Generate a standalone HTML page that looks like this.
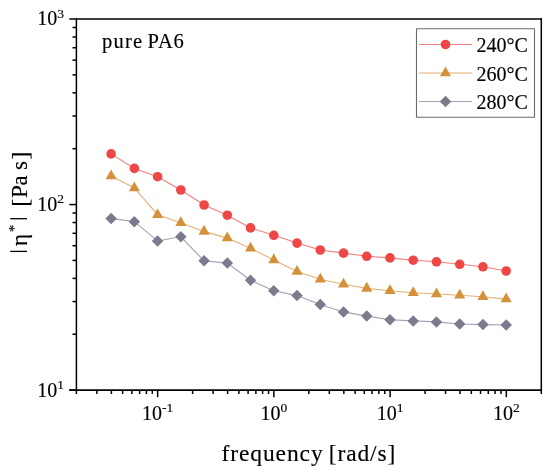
<!DOCTYPE html>
<html><head><meta charset="utf-8"><style>
html,body{margin:0;padding:0;background:#fff;}
body{width:550px;height:476px;overflow:hidden;font-family:"Liberation Serif",serif;}
svg{display:block;will-change:transform;}
text{stroke:#000;stroke-width:0.15px;}
</style></head><body>
<svg width="550" height="476" viewBox="0 0 550 476">
<rect width="550" height="476" fill="#fff"/>
<g><polyline points="111.10,218.40 134.34,221.70 157.58,241.00 180.82,236.80 204.06,260.80 227.30,263.10 250.54,280.30 273.78,290.80 297.02,295.60 320.26,304.60 343.50,311.90 366.74,316.10 389.98,319.80 413.22,320.90 436.46,321.90 459.70,324.00 482.94,324.60 506.18,325.00" fill="none" stroke="#7A7C8E" stroke-width="1.1" stroke-opacity="0.7"/><polyline points="111.10,176.10 134.34,188.00 157.58,214.70 180.82,222.70 204.06,231.40 227.30,238.10 250.54,248.30 273.78,259.90 297.02,271.50 320.26,279.20 343.50,284.30 366.74,288.40 389.98,290.70 413.22,292.80 436.46,294.00 459.70,295.20 482.94,296.80 506.18,299.10" fill="none" stroke="#D5903A" stroke-width="1.1" stroke-opacity="0.7"/><polyline points="111.10,153.90 134.34,168.40 157.58,176.70 180.82,190.00 204.06,205.00 227.30,215.20 250.54,227.90 273.78,235.30 297.02,243.10 320.26,250.00 343.50,253.10 366.74,256.30 389.98,257.90 413.22,260.20 436.46,261.80 459.70,264.30 482.94,266.80 506.18,271.00" fill="none" stroke="#EF4646" stroke-width="1.1" stroke-opacity="0.7"/><polygon points="111.10,212.65 116.85,218.40 111.10,224.15 105.35,218.40" fill="#7A7C8E"/><polygon points="134.34,215.95 140.09,221.70 134.34,227.45 128.59,221.70" fill="#7A7C8E"/><polygon points="157.58,235.25 163.33,241.00 157.58,246.75 151.83,241.00" fill="#7A7C8E"/><polygon points="180.82,231.05 186.57,236.80 180.82,242.55 175.07,236.80" fill="#7A7C8E"/><polygon points="204.06,255.05 209.81,260.80 204.06,266.55 198.31,260.80" fill="#7A7C8E"/><polygon points="227.30,257.35 233.05,263.10 227.30,268.85 221.55,263.10" fill="#7A7C8E"/><polygon points="250.54,274.55 256.29,280.30 250.54,286.05 244.79,280.30" fill="#7A7C8E"/><polygon points="273.78,285.05 279.53,290.80 273.78,296.55 268.03,290.80" fill="#7A7C8E"/><polygon points="297.02,289.85 302.77,295.60 297.02,301.35 291.27,295.60" fill="#7A7C8E"/><polygon points="320.26,298.85 326.01,304.60 320.26,310.35 314.51,304.60" fill="#7A7C8E"/><polygon points="343.50,306.15 349.25,311.90 343.50,317.65 337.75,311.90" fill="#7A7C8E"/><polygon points="366.74,310.35 372.49,316.10 366.74,321.85 360.99,316.10" fill="#7A7C8E"/><polygon points="389.98,314.05 395.73,319.80 389.98,325.55 384.23,319.80" fill="#7A7C8E"/><polygon points="413.22,315.15 418.97,320.90 413.22,326.65 407.47,320.90" fill="#7A7C8E"/><polygon points="436.46,316.15 442.21,321.90 436.46,327.65 430.71,321.90" fill="#7A7C8E"/><polygon points="459.70,318.25 465.45,324.00 459.70,329.75 453.95,324.00" fill="#7A7C8E"/><polygon points="482.94,318.85 488.69,324.60 482.94,330.35 477.19,324.60" fill="#7A7C8E"/><polygon points="506.18,319.25 511.93,325.00 506.18,330.75 500.43,325.00" fill="#7A7C8E"/><polygon points="111.10,169.57 116.65,179.37 105.55,179.37" fill="#D5903A"/><polygon points="134.34,181.47 139.89,191.27 128.79,191.27" fill="#D5903A"/><polygon points="157.58,208.17 163.13,217.97 152.03,217.97" fill="#D5903A"/><polygon points="180.82,216.17 186.37,225.97 175.27,225.97" fill="#D5903A"/><polygon points="204.06,224.87 209.61,234.67 198.51,234.67" fill="#D5903A"/><polygon points="227.30,231.57 232.85,241.37 221.75,241.37" fill="#D5903A"/><polygon points="250.54,241.77 256.09,251.57 244.99,251.57" fill="#D5903A"/><polygon points="273.78,253.37 279.33,263.17 268.23,263.17" fill="#D5903A"/><polygon points="297.02,264.97 302.57,274.77 291.47,274.77" fill="#D5903A"/><polygon points="320.26,272.67 325.81,282.47 314.71,282.47" fill="#D5903A"/><polygon points="343.50,277.77 349.05,287.57 337.95,287.57" fill="#D5903A"/><polygon points="366.74,281.87 372.29,291.67 361.19,291.67" fill="#D5903A"/><polygon points="389.98,284.17 395.53,293.97 384.43,293.97" fill="#D5903A"/><polygon points="413.22,286.27 418.77,296.07 407.67,296.07" fill="#D5903A"/><polygon points="436.46,287.47 442.01,297.27 430.91,297.27" fill="#D5903A"/><polygon points="459.70,288.67 465.25,298.47 454.15,298.47" fill="#D5903A"/><polygon points="482.94,290.27 488.49,300.07 477.39,300.07" fill="#D5903A"/><polygon points="506.18,292.57 511.73,302.37 500.63,302.37" fill="#D5903A"/><circle cx="111.10" cy="153.90" r="4.8" fill="#EF4646"/><circle cx="134.34" cy="168.40" r="4.8" fill="#EF4646"/><circle cx="157.58" cy="176.70" r="4.8" fill="#EF4646"/><circle cx="180.82" cy="190.00" r="4.8" fill="#EF4646"/><circle cx="204.06" cy="205.00" r="4.8" fill="#EF4646"/><circle cx="227.30" cy="215.20" r="4.8" fill="#EF4646"/><circle cx="250.54" cy="227.90" r="4.8" fill="#EF4646"/><circle cx="273.78" cy="235.30" r="4.8" fill="#EF4646"/><circle cx="297.02" cy="243.10" r="4.8" fill="#EF4646"/><circle cx="320.26" cy="250.00" r="4.8" fill="#EF4646"/><circle cx="343.50" cy="253.10" r="4.8" fill="#EF4646"/><circle cx="366.74" cy="256.30" r="4.8" fill="#EF4646"/><circle cx="389.98" cy="257.90" r="4.8" fill="#EF4646"/><circle cx="413.22" cy="260.20" r="4.8" fill="#EF4646"/><circle cx="436.46" cy="261.80" r="4.8" fill="#EF4646"/><circle cx="459.70" cy="264.30" r="4.8" fill="#EF4646"/><circle cx="482.94" cy="266.80" r="4.8" fill="#EF4646"/><circle cx="506.18" cy="271.00" r="4.8" fill="#EF4646"/></g>
<g stroke="#000" stroke-width="1.5" stroke-linecap="butt"><line x1="69.30" y1="19.0" x2="542.05" y2="19.0" stroke-width="1.6"/><line x1="69.30" y1="390.1" x2="542.05" y2="390.1" stroke-width="1.9"/><line x1="76.4" y1="18.15" x2="76.4" y2="390.10"/><line x1="541.3" y1="18.15" x2="541.3" y2="390.10"/><line x1="76.40" y1="390.10" x2="76.40" y2="394.00"/><line x1="96.87" y1="390.10" x2="96.87" y2="394.00"/><line x1="111.39" y1="390.10" x2="111.39" y2="394.00"/><line x1="122.65" y1="390.10" x2="122.65" y2="394.00"/><line x1="131.85" y1="390.10" x2="131.85" y2="394.00"/><line x1="139.63" y1="390.10" x2="139.63" y2="394.00"/><line x1="146.37" y1="390.10" x2="146.37" y2="394.00"/><line x1="152.32" y1="390.10" x2="152.32" y2="394.00"/><line x1="157.64" y1="390.10" x2="157.64" y2="397.20"/><line x1="192.62" y1="390.10" x2="192.62" y2="394.00"/><line x1="213.09" y1="390.10" x2="213.09" y2="394.00"/><line x1="227.61" y1="390.10" x2="227.61" y2="394.00"/><line x1="238.88" y1="390.10" x2="238.88" y2="394.00"/><line x1="248.08" y1="390.10" x2="248.08" y2="394.00"/><line x1="255.86" y1="390.10" x2="255.86" y2="394.00"/><line x1="262.60" y1="390.10" x2="262.60" y2="394.00"/><line x1="268.54" y1="390.10" x2="268.54" y2="394.00"/><line x1="273.86" y1="390.10" x2="273.86" y2="397.20"/><line x1="308.85" y1="390.10" x2="308.85" y2="394.00"/><line x1="329.32" y1="390.10" x2="329.32" y2="394.00"/><line x1="343.84" y1="390.10" x2="343.84" y2="394.00"/><line x1="355.10" y1="390.10" x2="355.10" y2="394.00"/><line x1="364.30" y1="390.10" x2="364.30" y2="394.00"/><line x1="372.08" y1="390.10" x2="372.08" y2="394.00"/><line x1="378.82" y1="390.10" x2="378.82" y2="394.00"/><line x1="384.77" y1="390.10" x2="384.77" y2="394.00"/><line x1="390.09" y1="390.10" x2="390.09" y2="397.20"/><line x1="425.07" y1="390.10" x2="425.07" y2="394.00"/><line x1="445.54" y1="390.10" x2="445.54" y2="394.00"/><line x1="460.06" y1="390.10" x2="460.06" y2="394.00"/><line x1="471.33" y1="390.10" x2="471.33" y2="394.00"/><line x1="480.53" y1="390.10" x2="480.53" y2="394.00"/><line x1="488.31" y1="390.10" x2="488.31" y2="394.00"/><line x1="495.05" y1="390.10" x2="495.05" y2="394.00"/><line x1="500.99" y1="390.10" x2="500.99" y2="394.00"/><line x1="506.31" y1="390.10" x2="506.31" y2="397.20"/><line x1="541.30" y1="390.10" x2="541.30" y2="394.00"/><line x1="69.30" y1="390.10" x2="76.40" y2="390.10"/><line x1="72.50" y1="334.24" x2="76.40" y2="334.24"/><line x1="72.50" y1="301.57" x2="76.40" y2="301.57"/><line x1="72.50" y1="278.39" x2="76.40" y2="278.39"/><line x1="72.50" y1="260.41" x2="76.40" y2="260.41"/><line x1="72.50" y1="245.71" x2="76.40" y2="245.71"/><line x1="72.50" y1="233.29" x2="76.40" y2="233.29"/><line x1="72.50" y1="222.53" x2="76.40" y2="222.53"/><line x1="72.50" y1="213.04" x2="76.40" y2="213.04"/><line x1="69.30" y1="204.55" x2="76.40" y2="204.55"/><line x1="72.50" y1="148.69" x2="76.40" y2="148.69"/><line x1="72.50" y1="116.02" x2="76.40" y2="116.02"/><line x1="72.50" y1="92.84" x2="76.40" y2="92.84"/><line x1="72.50" y1="74.86" x2="76.40" y2="74.86"/><line x1="72.50" y1="60.16" x2="76.40" y2="60.16"/><line x1="72.50" y1="47.74" x2="76.40" y2="47.74"/><line x1="72.50" y1="36.98" x2="76.40" y2="36.98"/><line x1="72.50" y1="27.49" x2="76.40" y2="27.49"/></g>
<g font-family="Liberation Serif, serif" fill="#000"><text x="64" y="25.4" text-anchor="end" font-size="20">10<tspan font-size="13.5" dy="-7.7">3</tspan></text><text x="64" y="211.0" text-anchor="end" font-size="20">10<tspan font-size="13.5" dy="-7.7">2</tspan></text><text x="64" y="396.8" text-anchor="end" font-size="20">10<tspan font-size="13.5" dy="-7.7">1</tspan></text><text x="157.6" y="420" text-anchor="middle" font-size="20">10<tspan font-size="13.5" dy="-7.7">-1</tspan></text><text x="273.9" y="420" text-anchor="middle" font-size="20">10<tspan font-size="13.5" dy="-7.7">0</tspan></text><text x="390.1" y="420" text-anchor="middle" font-size="20">10<tspan font-size="13.5" dy="-7.7">1</tspan></text><text x="506.3" y="420" text-anchor="middle" font-size="20">10<tspan font-size="13.5" dy="-7.7">2</tspan></text><text x="221.5" y="461.2" font-size="23.5" letter-spacing="0.9">frequency</text><text x="328.7" y="461.2" font-size="23.5" letter-spacing="0.9">[rad/s]</text><g transform="translate(27,0) rotate(-90)"><text x="-206.78" y="1.00" font-size="24">[</text><text x="-197.98" y="0.00" font-size="23.5">P</text><text x="-185.39" y="0.00" font-size="22.5">a</text><text x="-169.94" y="0.00" font-size="23">s</text><text x="-159.47" y="1.00" font-size="24">]</text><text x="-245.96" y="0.00" font-size="23">η</text><text x="-232.13" y="-8.20" font-size="15">*</text></g><line x1="10.2" y1="251.4" x2="27" y2="251.4" stroke="#000" stroke-width="1.3"/><line x1="10.2" y1="218.7" x2="27" y2="218.7" stroke="#000" stroke-width="1.3"/><text x="101.9" y="47.5" font-size="20.5" letter-spacing="1.3">pure</text><text x="147.6" y="47.5" font-size="20.5" letter-spacing="0.8">PA6</text></g>
<g font-family="Liberation Serif, serif" fill="#000"><rect x="416.5" y="28.7" width="118" height="88.5" fill="#fff" stroke="#6a6a6a" stroke-width="1.1" stroke-linejoin="round"/><line x1="419" y1="44.5" x2="472" y2="44.5" stroke="#EF4646" stroke-width="1.1" stroke-opacity="0.7"/><circle cx="445.50" cy="44.50" r="4.8" fill="#EF4646"/><text x="476.5" y="52.3" font-size="20">240°C</text><line x1="419" y1="73.0" x2="472" y2="73.0" stroke="#D5903A" stroke-width="1.1" stroke-opacity="0.7"/><polygon points="445.50,66.47 451.05,76.27 439.95,76.27" fill="#D5903A"/><text x="476.5" y="80.8" font-size="20">260°C</text><line x1="419" y1="101.5" x2="472" y2="101.5" stroke="#7A7C8E" stroke-width="1.1" stroke-opacity="0.7"/><polygon points="445.50,95.75 451.25,101.50 445.50,107.25 439.75,101.50" fill="#7A7C8E"/><text x="476.5" y="109.3" font-size="20">280°C</text></g>
</svg>
</body></html>
